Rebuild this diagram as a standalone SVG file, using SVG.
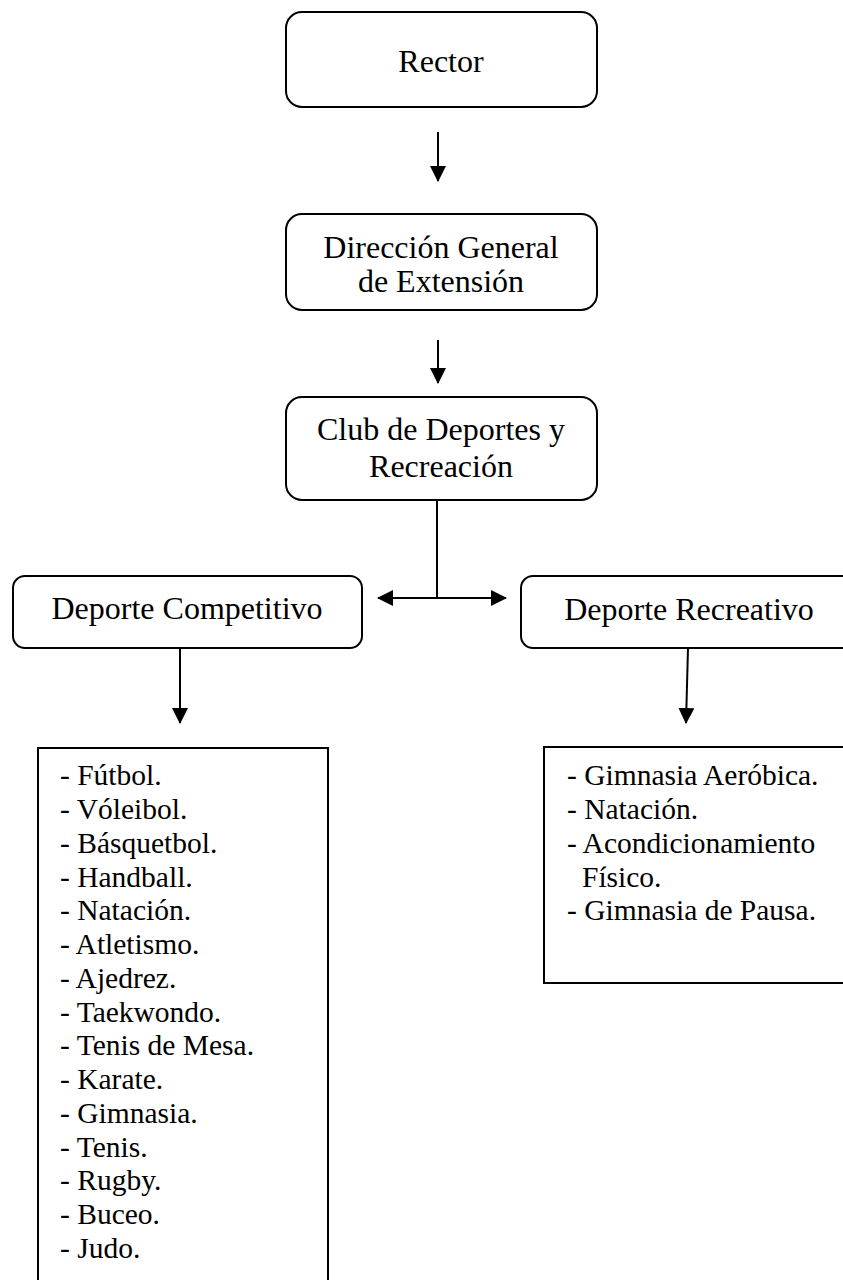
<svg xmlns="http://www.w3.org/2000/svg" width="843" height="1280" viewBox="0 0 843 1280">
<style>
.box{fill:#fff;stroke:#000;stroke-width:2}
.t{font-family:"Liberation Serif","Times New Roman",serif;font-size:32px;fill:#000;text-anchor:middle}
.l{font-family:"Liberation Serif","Times New Roman",serif;font-size:29.5px;fill:#000}
.c{stroke:#000;stroke-width:2;fill:none}
</style>
<defs>
<marker id="ah" viewBox="0 0 16 16" refX="15" refY="8" markerWidth="16" markerHeight="16" markerUnits="userSpaceOnUse" orient="auto-start-reverse">
<path d="M0,0 L16,8 L0,16 Z" fill="#000"/>
</marker>
</defs>
<rect width="843" height="1280" fill="#fff"/>
<g id="connectors">
<line class="c" x1="438" y1="132" x2="438" y2="181" marker-end="url(#ah)"/>
<line class="c" x1="438" y1="340" x2="438" y2="383" marker-end="url(#ah)"/>
<line class="c" x1="437" y1="500" x2="437" y2="598"/>
<line class="c" x1="378" y1="598" x2="506" y2="598" marker-start="url(#ah)" marker-end="url(#ah)"/>
<line class="c" x1="180" y1="648" x2="180" y2="723" marker-end="url(#ah)"/>
<line class="c" x1="688" y1="648" x2="686" y2="723" marker-end="url(#ah)"/>
</g>
<g id="rector">
<rect class="box" x="286" y="12" width="311" height="95" rx="16"/>
<text class="t" x="441" y="72">Rector</text>
</g>
<g id="direccion">
<rect class="box" x="286" y="214" width="311" height="96" rx="16"/>
<text class="t" x="441" y="258">Dirección General</text>
<text class="t" x="441" y="292">de Extensión</text>
</g>
<g id="club">
<rect class="box" x="286" y="397" width="311" height="103" rx="16"/>
<text class="t" x="441" y="440">Club de Deportes y</text>
<text class="t" x="441" y="477">Recreación</text>
</g>
<g id="competitivo">
<rect class="box" x="13" y="576" width="349" height="72" rx="12"/>
<text class="t" x="187" y="619">Deporte Competitivo</text>
</g>
<g id="recreativo">
<rect class="box" x="521" y="576" width="340" height="72" rx="12"/>
<text class="t" x="689" y="620">Deporte Recreativo</text>
</g>
<g id="lista-competitivo">
<rect x="38" y="748" width="290" height="560" fill="#fff" stroke="#000" stroke-width="2"/>
<text class="l" x="60" y="785">- Fútbol.</text>
<text class="l" x="60" y="819">- Vóleibol.</text>
<text class="l" x="60" y="853">- Básquetbol.</text>
<text class="l" x="60" y="887">- Handball.</text>
<text class="l" x="60" y="920">- Natación.</text>
<text class="l" x="60" y="954">- Atletismo.</text>
<text class="l" x="60" y="988">- Ajedrez.</text>
<text class="l" x="60" y="1022">- Taekwondo.</text>
<text class="l" x="60" y="1055">- Tenis de Mesa.</text>
<text class="l" x="60" y="1089">- Karate.</text>
<text class="l" x="60" y="1123">- Gimnasia.</text>
<text class="l" x="60" y="1157">- Tenis.</text>
<text class="l" x="60" y="1190">- Rugby.</text>
<text class="l" x="60" y="1224">- Buceo.</text>
<text class="l" x="60" y="1258">- Judo.</text>
</g>
<g id="lista-recreativo">
<rect x="544" y="747" width="320" height="236" fill="#fff" stroke="#000" stroke-width="2"/>
<text class="l" x="567" y="785">- Gimnasia Aeróbica.</text>
<text class="l" x="567" y="819">- Natación.</text>
<text class="l" x="567" y="853">- Acondicionamiento</text>
<text class="l" x="582" y="887">Físico.</text>
<text class="l" x="567" y="920">- Gimnasia de Pausa.</text>
</g>
</svg>
